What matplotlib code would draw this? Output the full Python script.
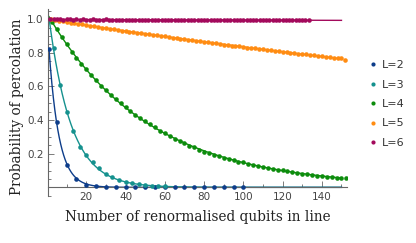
import numpy as np
import matplotlib
matplotlib.use("Agg")
import matplotlib.pyplot as plt
from matplotlib.ticker import MultipleLocator
from matplotlib.lines import Line2D

labels = ["L=2", "L=3", "L=4", "L=5", "L=6"]
colors = ["#0d3d8a", "#15918e", "#0c8c0c", "#ff8c12", "#a30a5c"]

x2 = [1] + list(range(5, 101, 5))
y2 = [0.82, 0.387, 0.133, 0.048, 0.015, 0.006, 0.003, 0.001, 0.001, 0.0005,
      0.0003, 0.0002, 0.0001, 0.0001, 0.0, 0.0, 0.0, 0.0, 0.0, 0.0, 0.0]

x3 = [10 * k / 3 for k in range(1, 19)]
y3 = [0.827, 0.609, 0.45, 0.335, 0.238, 0.192, 0.152, 0.113, 0.08, 0.06,
      0.043, 0.033, 0.025, 0.019, 0.014, 0.011, 0.008, 0.006]

x4 = [2.5 * k for k in range(1, 62)]
y4 = [0.982, 0.940, 0.892, 0.851, 0.805, 0.771, 0.733, 0.702, 0.668, 0.636,
      0.605, 0.578, 0.551, 0.525, 0.499, 0.476, 0.454, 0.432, 0.410, 0.393,
      0.378, 0.356, 0.337, 0.322, 0.305, 0.288, 0.278, 0.262, 0.248, 0.237,
      0.224, 0.213, 0.202, 0.194, 0.184, 0.176, 0.167, 0.160, 0.153, 0.148,
      0.141, 0.134, 0.128, 0.122, 0.117, 0.111, 0.106, 0.101, 0.097, 0.092,
      0.087, 0.080, 0.078, 0.072, 0.069, 0.066, 0.063, 0.060, 0.058, 0.055,
      0.057]

x5 = list(range(2, 153, 2))
y5 = [0.998, 0.994, 0.990, 0.987, 0.983, 0.979, 0.975, 0.972, 0.968, 0.962,
      0.961, 0.957, 0.952, 0.950, 0.946, 0.941, 0.940, 0.935, 0.932, 0.930,
      0.924, 0.923, 0.920, 0.915, 0.914, 0.909, 0.906, 0.904, 0.898, 0.898,
      0.892, 0.890, 0.887, 0.882, 0.881, 0.877, 0.873, 0.871, 0.868, 0.864,
      0.862, 0.858, 0.855, 0.853, 0.848, 0.847, 0.843, 0.840, 0.838, 0.836,
      0.831, 0.829, 0.827, 0.822, 0.821, 0.817, 0.815, 0.813, 0.808, 0.806,
      0.804, 0.800, 0.799, 0.795, 0.793, 0.790, 0.787, 0.786, 0.781, 0.780,
      0.776, 0.775, 0.771, 0.769, 0.766, 0.759]

x6 = [10 * k / 6 for k in range(1, 81)]
y6 = [0.999, 0.998, 0.999, 0.998, 0.997, 0.998, 0.999, 0.997, 0.998, 0.997,
      0.998, 0.996, 0.997, 0.998, 0.997, 0.996, 0.997, 0.998, 0.996, 0.997,
      0.996, 0.997, 0.995, 0.997, 0.996, 0.997, 0.995, 0.996, 0.997, 0.995,
      0.996, 0.995, 0.996, 0.997, 0.995, 0.996, 0.994, 0.996, 0.995, 0.996,
      0.994, 0.995, 0.996, 0.994, 0.995, 0.996, 0.994, 0.995, 0.994, 0.996,
      0.995, 0.994, 0.995, 0.994, 0.995, 0.996, 0.994, 0.995, 0.993, 0.995,
      0.994, 0.995, 0.993, 0.994, 0.995, 0.993, 0.994, 0.995, 0.993, 0.994,
      0.993, 0.994, 0.995, 0.993, 0.994, 0.993, 0.994, 0.993, 0.994, 0.993]

series = [(x2, y2), (x3, y3), (x4, y4), (x5, y5), (x6, y6)]

fig = plt.figure(figsize=(4.16, 2.43), dpi=100)
ax = fig.add_axes([0.1163, 0.193, 0.835 - 0.1163, 0.963 - 0.193])

xfit = np.linspace(1, 150, 400)
for (xs, ys), c in zip(series, colors):
    xs = np.asarray(xs, float)
    ys = np.asarray(ys, float)
    m = ys > 0
    p = np.polyfit(xs[m], np.log(ys[m]), 1, w=ys[m])
    ax.plot(xfit, np.exp(np.polyval(p, xfit)), color=c, lw=1.0, zorder=2)
    ax.plot(xs, ys, 'o', color=c, ms=3.3, mec='none', zorder=3)

ax.set_xlim(0.7, 153)
ax.set_ylim(-0.052, 1.06)
ax.spines['top'].set_visible(False)
ax.spines['right'].set_visible(False)
ax.spines['bottom'].set_position(('data', 0))
for s in ['left', 'bottom']:
    ax.spines[s].set_color('#666666')
    ax.spines[s].set_linewidth(0.8)

ax.xaxis.set_major_locator(MultipleLocator(20))
ax.xaxis.set_minor_locator(MultipleLocator(10))
ax.yaxis.set_major_locator(MultipleLocator(0.2))
ax.yaxis.set_minor_locator(MultipleLocator(0.05))
ax.set_xticks([20, 40, 60, 80, 100, 120, 140])
ax.set_xticklabels(["20", "40", "60", "80", "100", "120", "140"])
ax.set_yticks([0.2, 0.4, 0.6, 0.8, 1.0])
ax.set_yticklabels(["0.2", "0.4", "0.6", "0.8", "1.0"])
ax.tick_params(which='both', direction='in', colors='#666666', labelcolor='#444444',
               labelsize=7.5, width=0.6)
ax.tick_params(which='major', length=4)
ax.tick_params(which='minor', length=2)
ax.tick_params(axis='x', pad=3)

ax.set_xlabel("Number of renormalised qubits in line", family="DejaVu Serif",
              fontsize=9.8, color='#222222')
ax.set_ylabel("Probability of percolation", family="DejaVu Serif",
              fontsize=9.8, color='#222222')
ax.xaxis.set_label_coords(0.5, -0.075)
ax.yaxis.set_label_coords(-0.082, 0.48)

handles = [Line2D([], [], ls='none', marker='o', color=c, ms=3, mec='none') for c in colors]
fig.legend(handles, labels, loc='center left', bbox_to_anchor=(0.86, 0.572),
           frameon=False, fontsize=8, handletextpad=0.3, labelspacing=0.85,
           handlelength=1.0, labelcolor='#333333')

fig.savefig("out.png", dpi=100)
